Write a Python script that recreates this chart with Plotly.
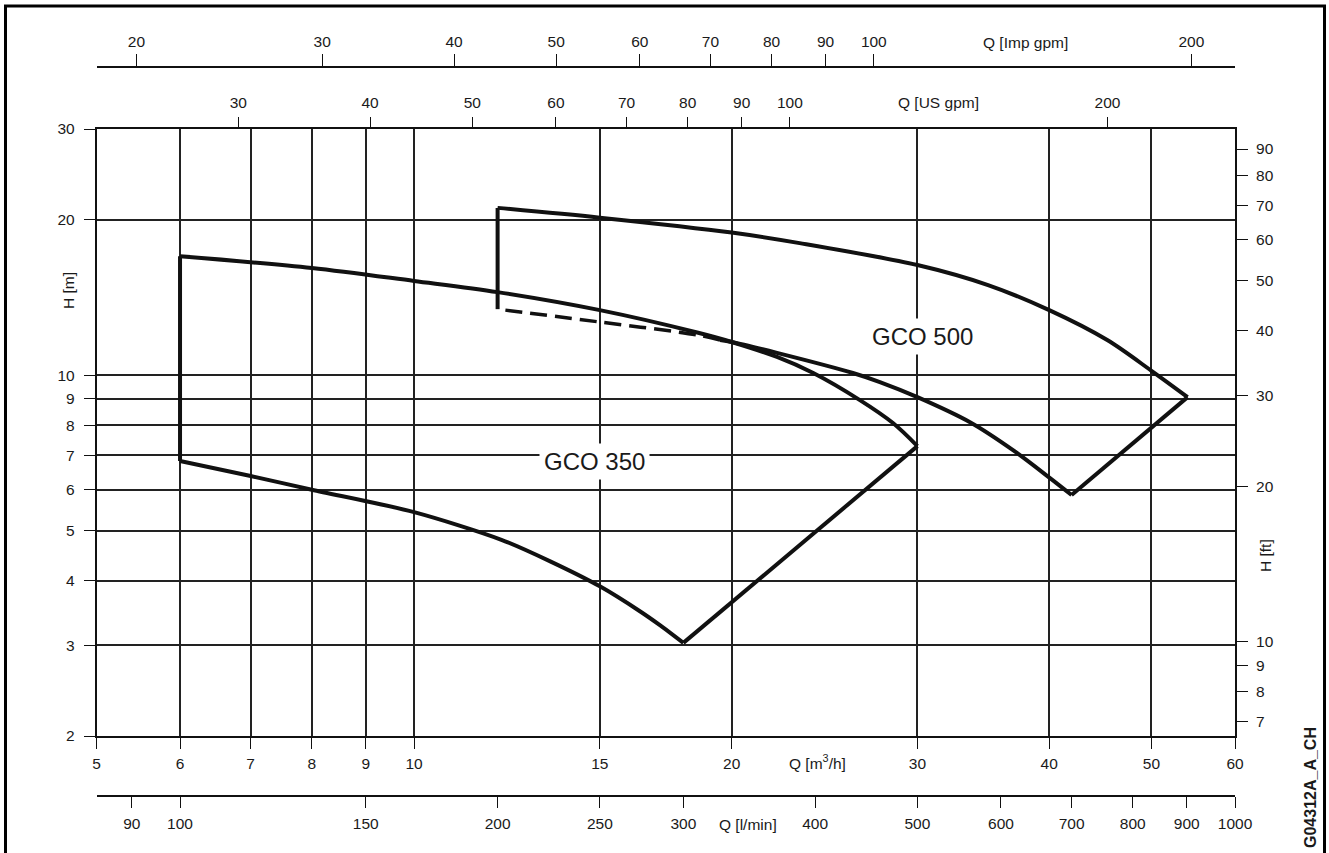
import math
import plotly.graph_objects as go

W, H = 1329, 853

# ---------------- data ----------------
q_ticks_m3h = [5, 6, 7, 8, 9, 10, 15, 20, 30, 40, 50, 60]
h_ticks_m = [2, 3, 4, 5, 6, 7, 8, 9, 10, 20, 30]
h_ticks_ft = [7, 8, 9, 10, 20, 30, 40, 50, 60, 70, 80, 90]
q_ticks_usgpm = [30, 40, 50, 60, 70, 80, 90, 100, 200]
q_ticks_impgpm = [20, 30, 40, 50, 60, 70, 80, 90, 100, 200]
q_ticks_lmin = [90, 100, 150, 200, 250, 300, 400, 500, 600, 700, 800, 900, 1000]

# unit conversions from m3/h (and m -> ft)
US_GPM = 4.40287
IMP_GPM = 3.66615
L_MIN = 16.6667
FT = 3.28084
q_range = [5, 60]
h_range = [2, 30]

# GCO 350 envelope
gco350_left_q = [6, 6]
gco350_left_h = [6.82, 17.0]
gco350_top_q = [6, 8, 10, 12, 15, 18.55, 20, 22.08, 23.9, 26.46, 28.44, 30]
gco350_top_h = [17.0, 16.14, 15.23, 14.49, 13.37, 12.1, 11.6, 10.85, 10.1, 8.95, 8.08, 7.29]
gco350_right_q = [30, 18]
gco350_right_h = [7.29, 3.03]
gco350_bottom_q = [18, 17.1, 16.37, 15, 13.46, 12.1, 10, 8, 7, 6]
gco350_bottom_h = [3.03, 3.28, 3.49, 3.90, 4.36, 4.80, 5.43, 6.0, 6.38, 6.82]

# GCO 500 envelope
gco500_left_q = [12, 12]
gco500_left_h = [13.43, 21.1]
gco500_top_q = [12, 15, 20, 23.2, 30, 35, 40, 45.4, 50, 54.1]
gco500_top_h = [21.1, 20.2, 18.9, 18.03, 16.35, 14.95, 13.37, 11.7, 10.2, 9.07]
gco500_right_q = [54.1, 42.0]
gco500_right_h = [9.07, 5.86]
gco500_bottom_q = [42.0, 40.07, 36.96, 33.65, 30, 27.64, 26.06, 22.08, 20, 19.5]
gco500_bottom_h = [5.86, 6.32, 7.16, 8.11, 9.07, 9.7, 10.1, 11.05, 11.6, 11.7]
gco500_dash_q = [19.5, 18.55, 15, 12]
gco500_dash_h = [11.7, 11.97, 12.68, 13.43]

# ---------------- figure ----------------
fig = go.Figure()
INK = "#111111"
LW = 4


def seg(q, h, spline=False, dash=None, width=LW, smooth=0.9):
    line = dict(color=INK, width=width)
    if spline:
        line.update(shape="spline", smoothing=smooth)
    if dash:
        line.update(dash=dash)
    fig.add_trace(go.Scatter(x=q, y=h, mode="lines", line=line,
                             hoverinfo="skip", showlegend=False,
                             xaxis="x", yaxis="y"))


seg(gco350_left_q, gco350_left_h)
seg(gco350_top_q, gco350_top_h, spline=True)
seg(gco350_right_q, gco350_right_h)
seg(gco350_bottom_q, gco350_bottom_h, spline=True, smooth=0.8)

seg(gco500_left_q, gco500_left_h)
seg(gco500_top_q, gco500_top_h, spline=True)
seg(gco500_right_q, gco500_right_h)
seg(gco500_bottom_q, gco500_bottom_h, spline=True)
seg(gco500_dash_q, gco500_dash_h, spline=True, dash="17px,8px", width=3.5)


# invisible helper traces so that the secondary unit axes get drawn
def ghost(xa, ya, xs, ys):
    fig.add_trace(go.Scatter(x=xs, y=ys, mode="markers",
                             marker=dict(opacity=0, size=1),
                             hoverinfo="skip", showlegend=False,
                             xaxis=xa, yaxis=ya))


ghost("x2", "y", [q_range[0] * US_GPM, q_range[1] * US_GPM], h_range)
ghost("x3", "y", [q_range[0] * IMP_GPM, q_range[1] * IMP_GPM], h_range)
ghost("x4", "y", [q_range[0] * L_MIN, q_range[1] * L_MIN], h_range)
ghost("x", "y2", q_range, [h_range[0] * FT, h_range[1] * FT])


def px_y(y):
    return (H - y) / H


def px_x(x):
    return x / W


def lg(a, k=1.0):
    return [math.log10(a[0] * k), math.log10(a[1] * k)]


FONT = dict(family="Liberation Sans, Arial, Helvetica, sans-serif", size=15.5, color="#1a1a1a")
xd = [px_x(96.5), px_x(1235)]
yd = [px_y(736), px_y(129)]

common = dict(type="log", ticks="outside", tickwidth=1.3, tickcolor=INK,
              linecolor=INK, linewidth=1.5, zeroline=False, tickfont=FONT,
              automargin=False, autorange=False, fixedrange=True)

fig.update_layout(
    template="none",
    width=W, height=H, autosize=False,
    margin=dict(l=0, r=0, t=0, b=0, pad=0, autoexpand=False),
    plot_bgcolor="white", paper_bgcolor="white",
    font=FONT, showlegend=False,
    xaxis=dict(common, domain=xd, anchor="y", range=lg(q_range),
               tickvals=q_ticks_m3h, ticktext=[str(v) for v in q_ticks_m3h],
               ticklen=11, showline=True, mirror=True,
               showgrid=True, gridcolor="#222222", gridwidth=1.5,
               ticklabelstandoff=2),
    yaxis=dict(common, domain=yd, anchor="x", range=lg(h_range),
               tickvals=h_ticks_m, ticktext=[str(v) for v in h_ticks_m],
               ticklen=11, showline=True, mirror=True,
               showgrid=True, gridcolor="#222222", gridwidth=1.5,
               ticklabelstandoff=6),
    yaxis2=dict(common, overlaying="y", side="right", anchor="x",
                range=lg(h_range, FT),
                tickvals=h_ticks_ft, ticktext=[str(v) for v in h_ticks_ft],
                ticklen=12, showline=False, showgrid=False,
                ticklabelstandoff=5),
    xaxis2=dict(common, overlaying="x", side="top", anchor="y",
                range=lg(q_range, US_GPM),
                tickvals=q_ticks_usgpm, ticktext=[str(v) for v in q_ticks_usgpm],
                ticklen=11, showline=False, showgrid=False,
                ticklabelstandoff=3),
    xaxis3=dict(common, overlaying="x", side="top", anchor="free",
                position=px_y(67),
                range=lg(q_range, IMP_GPM),
                tickvals=q_ticks_impgpm, ticktext=[str(v) for v in q_ticks_impgpm],
                ticklen=12, showline=True, showgrid=False,
                ticklabelstandoff=1),
    xaxis4=dict(common, overlaying="x", side="bottom", anchor="free",
                position=px_y(796),
                range=lg(q_range, L_MIN),
                tickvals=q_ticks_lmin, ticktext=[str(v) for v in q_ticks_lmin],
                ticklen=11, showline=True, showgrid=False,
                ticklabelstandoff=3),
)

# outer frame
fig.add_shape(type="rect", xref="paper", yref="paper",
              x0=px_x(5.5), x1=px_x(1324.5), y0=px_y(6), y1=px_y(870),
              line=dict(color="black", width=3), fillcolor="rgba(0,0,0,0)",
              layer="above")


def note(text, x, y, size=15.5, angle=0, bg=None, bold=False):
    f = dict(FONT, size=size)
    if bold:
        f["weight"] = "bold"
    kw = dict(text=text, x=px_x(x), y=px_y(y), xref="paper", yref="paper",
              showarrow=False, textangle=angle, xanchor="center", yanchor="middle",
              font=f)
    if bg:
        kw.update(bgcolor=bg, borderpad=4)
    fig.add_annotation(**kw)


note("H [m]", 68, 291, angle=-90)
note("H [ft]", 1265, 556, angle=-90)
note("Q [Imp gpm]", 1025, 43)
note("Q [US gpm]", 938, 103)
note("Q [m<sup>3</sup>/h]", 818, 762)
note("Q [l/min]", 748, 824)
note("G04312A_A_CH", 1310, 788, size=16, angle=-90, bold=True)
note("GCO 500", 922, 336, size=24, bg="white")
note("GCO 350", 594, 461, size=24, bg="white")

fig.write_html("out.html", config=dict(displayModeBar=False))
